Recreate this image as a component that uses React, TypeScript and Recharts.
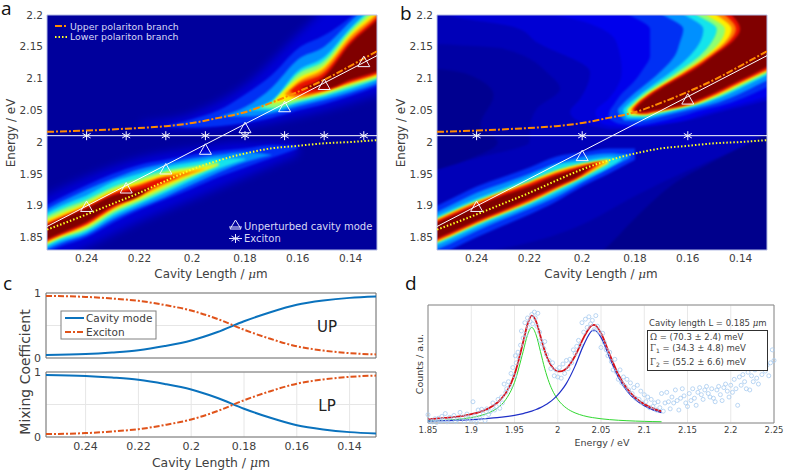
import React from "react";
import {
  Area,
  CartesianGrid,
  ComposedChart,
  Line,
  ReferenceArea,
  Scatter,
  XAxis,
  YAxis,
} from "recharts";

// ---- shared axes
const LENGTH_TICKS = [0.24, 0.22, 0.2, 0.18, 0.16, 0.14];
const ENERGY_TICKS = [1.85, 1.9, 1.95, 2, 2.05, 2.1, 2.15, 2.2];
const MIX_TICKS = [0, 0.5, 1];
const SPECTRUM_TICKS = [1.85, 1.9, 1.95, 2, 2.05, 2.1, 2.15, 2.2, 2.25];
const COUNT_TICKS = [0, 1, 2, 3, 4, 5];

// ---- lines over both maps: [cavity length, energy]
const UPPER_BRANCH = [
  [0.255, 2.016], [0.24, 2.018], [0.225, 2.021], [0.21, 2.025], [0.2, 2.03], [0.19, 2.038],
  [0.18, 2.047], [0.17, 2.062], [0.16, 2.079], [0.15, 2.098], [0.14, 2.12], [0.13, 2.143],
];
const LOWER_BRANCH = [
  [0.255, 1.862], [0.24, 1.886], [0.23, 1.903], [0.22, 1.92], [0.21, 1.939], [0.2, 1.957],
  [0.19, 1.971], [0.18, 1.982], [0.17, 1.99], [0.16, 1.994], [0.15, 1.998], [0.14, 2.0], [0.13, 2.003],
];
const CAVITY_LINE = [[0.255, 1.867], [0.13, 2.136]];
const EXCITON_LINE = [[0.255, 2.01], [0.13, 2.01]];
const CAVITY_A = [
  [0.24, 1.897], [0.225, 1.926], [0.21, 1.956], [0.195, 1.987],
  [0.18, 2.021], [0.165, 2.054], [0.15, 2.089], [0.135, 2.125],
];
const EXCITON_A = [
  [0.24, 2.01], [0.225, 2.01], [0.21, 2.01], [0.195, 2.01],
  [0.18, 2.01], [0.165, 2.01], [0.15, 2.01], [0.135, 2.01],
];
const CAVITY_B = [[0.24, 1.897], [0.2, 1.977], [0.16, 2.066]];
const EXCITON_B = [[0.24, 2.01], [0.2, 2.01], [0.16, 2.01]];

// ---- map a, contour bands: [length, low energy, high energy]
const A_GLOW_LOW = [[0.26, 1.8, 1.905], [0.24, 1.835, 1.945], [0.22, 1.875, 1.975], [0.2, 1.91, 1.99], [0.18, 1.945, 2.0], [0.16, 1.98, 2.0]];
const A_GLOW_UP = [[0.22, 2.025, 2.03], [0.2, 2.02, 2.045], [0.18, 2.024, 2.09], [0.16, 2.04, 2.17], [0.14, 2.062, 2.25], [0.12, 2.09, 2.33]];

const A_LOW_1 = [[0.26, 1.815, 1.89], [0.25, 1.835, 1.912], [0.24, 1.85, 1.932], [0.23, 1.873, 1.95], [0.22, 1.893, 1.964], [0.21, 1.91, 1.972], [0.2, 1.927, 1.98], [0.19, 1.945, 1.986], [0.18, 1.96, 1.99], [0.17, 1.975, 1.995], [0.16, 1.99, 1.994]];
const A_LOW_2 = [[0.26, 1.82, 1.883], [0.25, 1.84, 1.905], [0.24, 1.854, 1.925], [0.23, 1.878, 1.942], [0.22, 1.897, 1.957], [0.21, 1.914, 1.966], [0.2, 1.933, 1.974], [0.19, 1.952, 1.98], [0.18, 1.968, 1.984], [0.17, 1.979, 1.98]];
const A_LOW_3 = [[0.26, 1.824, 1.877], [0.25, 1.844, 1.899], [0.24, 1.858, 1.916], [0.23, 1.883, 1.937], [0.22, 1.902, 1.95], [0.21, 1.92, 1.961], [0.2, 1.94, 1.968], [0.19, 1.958, 1.974], [0.18, 1.972, 1.974]];
const A_LOW_4 = [[0.26, 1.828, 1.872], [0.25, 1.848, 1.893], [0.24, 1.862, 1.909], [0.23, 1.888, 1.929], [0.22, 1.906, 1.943], [0.21, 1.925, 1.955], [0.2, 1.945, 1.962], [0.19, 1.963, 1.968]];
const A_LOW_5 = [[0.26, 1.83, 1.868], [0.25, 1.85, 1.887], [0.24, 1.866, 1.904], [0.23, 1.892, 1.925], [0.22, 1.91, 1.938], [0.21, 1.93, 1.951], [0.2, 1.948, 1.958], [0.19, 1.964, 1.965]];
const A_LOW_6 = [[0.26, 1.833, 1.864], [0.25, 1.852, 1.883], [0.24, 1.869, 1.9], [0.23, 1.895, 1.921], [0.22, 1.914, 1.934], [0.21, 1.934, 1.947], [0.2, 1.951, 1.954], [0.195, 1.958, 1.958]];
const A_LOW_7 = [[0.26, 1.835, 1.861], [0.25, 1.854, 1.88], [0.24, 1.871, 1.898], [0.23, 1.897, 1.919], [0.22, 1.917, 1.931], [0.21, 1.938, 1.944], [0.205, 1.945, 1.945]];
const A_LOW_8 = [[0.26, 1.837, 1.858], [0.25, 1.856, 1.878], [0.24, 1.874, 1.896], [0.23, 1.9, 1.916], [0.22, 1.915, 1.925], [0.215, 1.93, 1.93]];

const A_UP_1 = [[0.21, 2.025, 2.025], [0.2, 2.023, 2.036], [0.19, 2.025, 2.05], [0.18, 2.03, 2.075], [0.17, 2.038, 2.105], [0.16, 2.05, 2.147], [0.15, 2.06, 2.168], [0.14, 2.073, 2.197], [0.13, 2.088, 2.24], [0.12, 2.105, 2.28]];
const A_UP_2 = [[0.19, 2.04, 2.04], [0.18, 2.04, 2.055], [0.17, 2.045, 2.085], [0.16, 2.056, 2.13], [0.15, 2.066, 2.15], [0.14, 2.078, 2.19], [0.13, 2.092, 2.23], [0.12, 2.11, 2.27]];
const A_UP_3 = [[0.18, 2.05, 2.05], [0.17, 2.05, 2.065], [0.16, 2.061, 2.112], [0.15, 2.071, 2.134], [0.14, 2.083, 2.18], [0.13, 2.098, 2.22], [0.12, 2.115, 2.26]];
const A_UP_4 = [[0.175, 2.055, 2.055], [0.17, 2.054, 2.062], [0.16, 2.064, 2.107], [0.15, 2.074, 2.128], [0.14, 2.087, 2.176], [0.13, 2.1, 2.215], [0.12, 2.118, 2.255]];
const A_UP_5 = [[0.17, 2.06, 2.06], [0.16, 2.068, 2.1], [0.15, 2.077, 2.121], [0.14, 2.091, 2.171], [0.13, 2.103, 2.208], [0.12, 2.12, 2.25]];
const A_UP_6 = [[0.165, 2.075, 2.075], [0.16, 2.07, 2.094], [0.15, 2.08, 2.116], [0.14, 2.093, 2.166], [0.13, 2.106, 2.202], [0.12, 2.123, 2.245]];
const A_UP_7 = [[0.163, 2.08, 2.08], [0.16, 2.075, 2.09], [0.15, 2.081, 2.11], [0.14, 2.095, 2.16], [0.13, 2.108, 2.197], [0.12, 2.126, 2.24]];
const A_UP_8 = [[0.159, 2.085, 2.085], [0.15, 2.083, 2.103], [0.14, 2.098, 2.155], [0.13, 2.111, 2.192], [0.12, 2.13, 2.235]];

// ---- map b, shading behind the lobes
const B_DIM_RIGHT = [[0.26, 1.8, 1.815], [0.24, 1.8, 1.825], [0.2, 1.8, 1.87], [0.18, 1.8, 1.915], [0.16, 1.8, 1.955], [0.14, 1.8, 1.99], [0.12, 1.8, 2.02]];
const B_NAVY_RIGHT = [[0.2, 1.8, 1.81], [0.192, 1.8, 1.83], [0.18, 1.8, 1.88], [0.167, 1.8, 1.929], [0.15, 1.8, 1.97], [0.13, 1.8, 2.014], [0.12, 1.8, 2.04]];

// ---- map b, lower lobe: [length, low energy, high energy]
const B_LOW_1 = [[0.26, 1.81, 1.89], [0.25, 1.83, 1.91], [0.24, 1.85, 1.93], [0.23, 1.868, 1.945], [0.22, 1.886, 1.96], [0.21, 1.906, 1.977], [0.2, 1.93, 1.984], [0.19, 1.95, 1.99], [0.18, 1.972, 1.99]];
const B_LOW_2 = [[0.26, 1.822, 1.88], [0.25, 1.84, 1.9], [0.24, 1.86, 1.92], [0.23, 1.878, 1.935], [0.22, 1.895, 1.95], [0.21, 1.913, 1.966], [0.2, 1.936, 1.977], [0.19, 1.958, 1.982], [0.182, 1.975, 1.98]];
const B_LOW_3 = [[0.26, 1.829, 1.874], [0.25, 1.847, 1.893], [0.24, 1.866, 1.911], [0.23, 1.883, 1.927], [0.22, 1.9, 1.944], [0.21, 1.919, 1.9635], [0.2, 1.94, 1.97], [0.19, 1.96, 1.976], [0.185, 1.972, 1.974]];
const B_LOW_4 = [[0.26, 1.833, 1.87], [0.25, 1.851, 1.889], [0.24, 1.87, 1.907], [0.23, 1.887, 1.923], [0.22, 1.904, 1.938], [0.21, 1.924, 1.955], [0.2, 1.944, 1.966], [0.19, 1.966, 1.973]];
const B_LOW_5 = [[0.26, 1.835, 1.868], [0.25, 1.853, 1.887], [0.24, 1.872, 1.905], [0.23, 1.889, 1.921], [0.22, 1.906, 1.936], [0.21, 1.926, 1.952], [0.2, 1.946, 1.964], [0.191, 1.969, 1.971]];
const B_LOW_6 = [[0.26, 1.837, 1.866], [0.25, 1.855, 1.885], [0.24, 1.874, 1.903], [0.23, 1.891, 1.919], [0.22, 1.908, 1.934], [0.21, 1.928, 1.95], [0.2, 1.948, 1.962], [0.193, 1.968, 1.969]];
const B_LOW_7 = [[0.26, 1.839, 1.864], [0.25, 1.857, 1.882], [0.24, 1.876, 1.9], [0.23, 1.893, 1.916], [0.22, 1.911, 1.93], [0.21, 1.93, 1.947], [0.2, 1.95, 1.96], [0.195, 1.966, 1.966]];

// ---- map b, upper shell, read by rows: [energy, left length, right length]
const B_NAVY_1 = [[2.118, 0.27, 0.265], [2.115, 0.27, 0.255], [2.105, 0.27, 0.2424], [2.0735, 0.27, 0.2336], [2.026, 0.27, 0.2386], [2.0, 0.27, 0.232], [1.97, 0.27, 0.245], [1.95, 0.27, 0.26]];
const B_NAVY_2 = [[2.155, 0.27, 0.26], [2.147, 0.27, 0.2298], [2.105, 0.27, 0.2122], [2.084, 0.27, 0.2084], [2.0525, 0.27, 0.2172], [2.026, 0.27, 0.2197], [2.0, 0.27, 0.22], [1.975, 0.27, 0.24], [1.95, 0.27, 0.265]];
const B_SHELL_1 = [[2.3, 0.27, 0.1], [2.2, 0.25, 0.1], [2.18, 0.225, 0.1], [2.157, 0.2172, 0.1], [2.11, 0.197, 0.105], [2.068, 0.2008, 0.128], [2.047, 0.2046, 0.148], [2.03, 0.2, 0.165], [2.02, 0.19, 0.182]];
const B_SHELL_2 = [[2.3, 0.25, 0.1], [2.21, 0.22, 0.1], [2.19, 0.2, 0.1], [2.157, 0.187, 0.1], [2.11, 0.185, 0.11], [2.068, 0.19, 0.133], [2.047, 0.195, 0.152], [2.03, 0.193, 0.168], [2.024, 0.186, 0.18]];
const B_UP_1 = [[2.3, 0.205, 0.1], [2.25, 0.198, 0.1], [2.22, 0.19, 0.1], [2.2, 0.182, 0.1], [2.178, 0.1743, 0.1], [2.157, 0.1743, 0.1], [2.136, 0.1743, 0.105], [2.115, 0.1769, 0.116], [2.094, 0.1806, 0.1264], [2.073, 0.1857, 0.137], [2.058, 0.1882, 0.147], [2.05, 0.1895, 0.155], [2.04, 0.19, 0.163], [2.03, 0.187, 0.173], [2.026, 0.181, 0.178]];
const B_UP_2 = [[2.3, 0.198, 0.1], [2.25, 0.187, 0.1], [2.22, 0.178, 0.1], [2.2, 0.1693, 0.1], [2.178, 0.1617, 0.1], [2.157, 0.163, 0.1], [2.136, 0.1649, 0.11], [2.115, 0.1693, 0.1212], [2.094, 0.175, 0.1315], [2.073, 0.1813, 0.142], [2.058, 0.1851, 0.152], [2.05, 0.1865, 0.16], [2.034, 0.184, 0.176]];
const B_UP_3 = [[2.3, 0.192, 0.1], [2.25, 0.18, 0.1], [2.22, 0.17, 0.1], [2.2, 0.1611, 0.1], [2.178, 0.1541, 0.1], [2.157, 0.1554, 0.1], [2.136, 0.1592, 0.113], [2.115, 0.1649, 0.1251], [2.094, 0.1718, 0.1354], [2.073, 0.1787, 0.146], [2.058, 0.183, 0.156], [2.05, 0.1845, 0.164], [2.038, 0.183, 0.176]];
const B_UP_4 = [[2.3, 0.187, 0.1], [2.25, 0.175, 0.1], [2.22, 0.165, 0.1], [2.2, 0.1566, 0.1], [2.178, 0.149, 0.1], [2.157, 0.151, 0.1], [2.136, 0.1554, 0.1145], [2.115, 0.1623, 0.1268], [2.094, 0.1699, 0.1371], [2.073, 0.1775, 0.1477], [2.058, 0.1813, 0.1578], [2.05, 0.183, 0.166], [2.041, 0.182, 0.175]];
const B_UP_5 = [[2.3, 0.183, 0.1], [2.25, 0.17, 0.1], [2.22, 0.16, 0.1], [2.2, 0.1529, 0.1], [2.178, 0.1459, 0.1], [2.157, 0.1478, 0.1], [2.136, 0.1531, 0.116], [2.115, 0.1602, 0.1282], [2.094, 0.1683, 0.1385], [2.073, 0.1762, 0.149], [2.058, 0.1806, 0.159], [2.05, 0.1825, 0.168], [2.043, 0.181, 0.176]];
const B_UP_6 = [[2.3, 0.18, 0.1], [2.25, 0.166, 0.1], [2.22, 0.156, 0.1], [2.2, 0.149, 0.1], [2.178, 0.1434, 0.1], [2.157, 0.146, 0.1], [2.136, 0.1522, 0.118], [2.115, 0.1595, 0.1287], [2.094, 0.1676, 0.1395], [2.073, 0.1757, 0.15], [2.058, 0.18, 0.16], [2.05, 0.1815, 0.169], [2.044, 0.179, 0.176]];
const B_UP_7 = [[2.3, 0.178, 0.1], [2.25, 0.163, 0.1], [2.22, 0.153, 0.1], [2.2, 0.1459, 0.1], [2.178, 0.1418, 0.1], [2.157, 0.1447, 0.1], [2.136, 0.151, 0.12], [2.115, 0.1585, 0.13], [2.094, 0.167, 0.1405], [2.073, 0.1752, 0.1511], [2.058, 0.1796, 0.1612], [2.05, 0.1808, 0.171], [2.045, 0.178, 0.1755]];
const B_UP_8 = [[2.3, 0.175, 0.1], [2.25, 0.16, 0.1], [2.22, 0.15, 0.1], [2.2, 0.1434, 0.1], [2.178, 0.1402, 0.1], [2.157, 0.1434, 0.1], [2.136, 0.1503, 0.1225], [2.115, 0.1573, 0.1315], [2.094, 0.1661, 0.1418], [2.073, 0.1743, 0.1524], [2.058, 0.1787, 0.1625], [2.05, 0.18, 0.172], [2.047, 0.179, 0.177]];

// ---- panel c: mixing coefficients
const MIX_LENGTH = [0.255, 0.24, 0.23, 0.22, 0.21, 0.2, 0.19, 0.18, 0.17, 0.16, 0.15, 0.14, 0.13];
const UP_CAVITY = [0.045, 0.06, 0.085, 0.12, 0.185, 0.27, 0.4, 0.565, 0.705, 0.82, 0.885, 0.925, 0.945];
const UP_EXCITON = [0.955, 0.94, 0.915, 0.88, 0.815, 0.73, 0.6, 0.435, 0.295, 0.18, 0.115, 0.075, 0.055];

// ---- panel d: spectrum fits
const FIT_ENERGY = [1.85, 1.87, 1.89, 1.91, 1.92, 1.93, 1.94, 1.95, 1.96, 1.965, 1.97, 1.975, 1.98, 1.985, 1.99, 1.995, 2, 2.005, 2.01, 2.02, 2.03, 2.04, 2.042, 2.05, 2.06, 2.07, 2.08, 2.09, 2.1, 2.11, 2.12];
const FIT_TOTAL = [0.16, 0.215, 0.305, 0.47, 0.62, 0.857, 1.27, 2.05, 3.43, 4.18, 4.55, 4.3, 3.68, 3.05, 2.59, 2.31, 2.19, 2.2, 2.31, 2.84, 3.62, 4.15, 4.16, 3.81, 2.91, 2.06, 1.46, 1.06, 0.8, 0.62, 0.49];
const FIT_GREEN = [0.081, 0.116, 0.179, 0.307, 0.429, 0.632, 1, 1.72, 3.03, 3.73, 4.05, 3.73, 3.03, 2.3, 1.72, 1.3, 1, 0.788, 0.632, 0.429, 0.307, 0.23, 0.22, 0.179, 0.143, 0.116, 0.097, 0.081, 0.07, 0.06, 0.053];
const FIT_BLUE = [0.08, 0.099, 0.126, 0.165, 0.192, 0.225, 0.268, 0.325, 0.4, 0.449, 0.505, 0.572, 0.651, 0.748, 0.866, 1.01, 1.19, 1.41, 1.68, 2.41, 3.31, 3.92, 3.94, 3.63, 2.76, 1.94, 1.36, 0.98, 0.727, 0.557, 0.438];
const COUNTS = [
  [1.85, 0.35], [1.852, 0.1], [1.855, 0.05], [1.858, 0.18], [1.86, 0.02], [1.862, 0.2], [1.865, 0.08], [1.866, 0.28], [1.868, 0.12], [1.87, 0.4], [1.872, 0.05], [1.875, 0.24], [1.877, 0.1], [1.88, 0.32], [1.882, 0.06], [1.884, 0.15], [1.887, 0.45], [1.89, 0.25], [1.892, 0.08], [1.895, 0.38], [1.897, 0.2], [1.9, 0.12], [1.902, 0.9], [1.904, 0.3], [1.906, 0.02], [1.908, 0.55], [1.91, 0.2], [1.912, 0.58], [1.914, 0.38], [1.916, 0.1], [1.918, 0.6], [1.92, 0.36], [1.922, 0.48], [1.925, 0.85], [1.927, 0.55], [1.929, 0.7], [1.931, 1.0], [1.933, 0.62], [1.935, 1.1], [1.936, 0.85], [1.938, 1.65], [1.94, 1.3], [1.941, 1.45], [1.943, 1.75], [1.945, 1.55], [1.946, 2.1], [1.948, 2.35], [1.95, 2.0], [1.951, 2.85], [1.952, 2.55], [1.954, 3.0], [1.955, 2.8], [1.957, 3.3], [1.958, 3.9], [1.96, 3.6], [1.962, 4.25], [1.963, 3.75], [1.965, 4.45], [1.966, 4.05], [1.968, 4.3], [1.97, 4.6], [1.971, 4.2], [1.973, 4.7], [1.974, 4.45], [1.976, 4.1], [1.977, 4.65], [1.979, 3.85], [1.98, 3.5], [1.982, 3.35], [1.984, 3.15], [1.985, 3.45], [1.987, 2.9], [1.99, 2.65], [1.992, 2.3], [1.994, 2.55], [1.996, 2.0], [1.998, 2.25], [2, 1.95], [2.002, 2.35], [2.004, 1.9], [2.006, 2.5], [2.008, 2.1], [2.01, 2.65], [2.012, 2.3], [2.014, 2.7], [2.016, 2.55], [2.018, 3.1], [2.02, 2.95], [2.022, 3.25], [2.024, 3.5], [2.026, 3.3], [2.028, 4.25], [2.03, 3.85], [2.032, 4.4], [2.034, 4.05], [2.036, 4.5], [2.038, 4.2], [2.04, 4.35], [2.042, 3.95], [2.044, 4.55], [2.046, 4.1], [2.048, 3.85], [2.05, 3.2], [2.052, 3.8], [2.054, 3.4], [2.056, 3.1], [2.058, 2.85], [2.06, 3.0], [2.062, 2.6], [2.064, 2.25], [2.066, 2.7], [2.068, 2.15], [2.07, 1.85], [2.072, 2.25], [2.074, 1.7], [2.076, 1.95], [2.078, 1.55], [2.08, 1.85], [2.082, 1.4], [2.084, 1.7], [2.086, 1.25], [2.088, 1.5], [2.09, 1.05], [2.092, 1.6], [2.094, 1.0], [2.096, 1.35], [2.098, 0.85], [2.1, 1.2], [2.102, 0.9], [2.104, 1.1], [2.106, 0.65], [2.108, 1.0], [2.11, 0.7], [2.112, 0.85], [2.114, 0.55], [2.116, 0.9], [2.118, 0.65], [2.12, 1.25], [2.122, 0.5], [2.124, 0.85], [2.126, 1.3], [2.128, 0.9], [2.13, 0.6], [2.132, 1.1], [2.134, 0.85], [2.136, 1.4], [2.138, 0.95], [2.14, 0.55], [2.142, 1.05], [2.144, 1.45], [2.146, 1.15], [2.148, 0.85], [2.15, 0.7], [2.152, 1.25], [2.154, 0.95], [2.156, 1.45], [2.158, 1.05], [2.16, 0.75], [2.162, 1.3], [2.164, 1.5], [2.166, 1.2], [2.168, 1.0], [2.17, 1.4], [2.172, 1.55], [2.174, 1.25], [2.176, 1.1], [2.178, 1.45], [2.18, 1.05], [2.182, 0.9], [2.184, 1.4], [2.186, 1.55], [2.188, 1.2], [2.19, 0.95], [2.192, 1.5], [2.194, 1.65], [2.196, 1.35], [2.198, 1.1], [2.2, 1.6], [2.202, 1.3], [2.204, 1.85], [2.206, 1.45], [2.208, 0.75], [2.21, 1.95], [2.212, 1.6], [2.214, 2.05], [2.216, 1.75], [2.218, 1.45], [2.22, 2.15], [2.222, 1.4], [2.224, 2.0], [2.226, 1.75], [2.228, 2.25], [2.23, 1.9], [2.232, 1.65], [2.234, 2.3], [2.236, 2.05], [2.238, 2.65], [2.24, 2.2], [2.242, 2.45], [2.244, 2.0], [2.246, 2.55], [2.248, 3.1], [2.25, 2.65],
];

const FONT = "DejaVu Sans";
const TEXT = "#404040";
const JET = ["#0030f4", "#0090ff", "#14e4ec", "#90ff70", "#ffee00", "#ff8000", "#e81000", "#800000"];
const B_LOW_COLORS = [JET[0], JET[1], JET[2], JET[4], JET[5], JET[6], JET[7]];
const X_DOMAIN: [number, number] = [0.13, 0.255];
const E_DOMAIN: [number, number] = [1.83, 2.2];

const A_BANDS = [
  A_LOW_1, A_LOW_2, A_LOW_3, A_LOW_4, A_LOW_5, A_LOW_6, A_LOW_7, A_LOW_8,
  A_UP_1, A_UP_2, A_UP_3, A_UP_4, A_UP_5, A_UP_6, A_UP_7, A_UP_8,
];
const B_LOW_BANDS = [B_LOW_1, B_LOW_2, B_LOW_3, B_LOW_4, B_LOW_5, B_LOW_6, B_LOW_7];
const B_UP_BANDS = [B_UP_1, B_UP_2, B_UP_3, B_UP_4, B_UP_5, B_UP_6, B_UP_7, B_UP_8];

const bandRows = (rows: number[][]) => rows.map(([x, lo, hi]) => ({ x, band: [lo, hi] }));
const shellRows = (rows: number[][]) => rows.map(([y, l, r]) => ({ y, band: [l, r] }));
const pointRows = (rows: number[][]) => rows.map(([x, y]) => ({ x, y }));
const BACKGROUND = [{ x: 0.27, band: [1.8, 2.3] }, { x: 0.11, band: [1.8, 2.3] }];

const HEAT_BOX = { width: 390, height: 285 };
const HEAT_MARGIN = { top: 15, right: 13, bottom: 35, left: 47 };

function TriangleDot(props: any) {
  const { cx, cy, index } = props;
  return (
    <path
      key={index}
      d={`M${cx} ${cy - 6.5} L${cx + 6} ${cy + 4} L${cx - 6} ${cy + 4} Z`}
      fill="none"
      stroke="#f4f4ff"
      strokeWidth={1}
    />
  );
}

function StarDot(props: any) {
  const { cx, cy, index } = props;
  return (
    <path
      key={index}
      d={`M${cx} ${cy - 4.5} V${cy + 4.5} M${cx - 4} ${cy - 2.3} L${cx + 4} ${cy + 2.3} M${cx - 4} ${cy + 2.3} L${cx + 4} ${cy - 2.3}`}
      fill="none"
      stroke="#fff"
      strokeWidth={1}
    />
  );
}

function band(rows: any[], color: string, key: string, className?: string) {
  return (
    <Area
      key={key}
      data={rows}
      dataKey="band"
      type="monotone"
      className={className}
      fill={color}
      fillOpacity={1}
      stroke="none"
      dot={false}
      activeDot={false}
      isAnimationActive={false}
    />
  );
}

function overlayLine(rows: number[][], color: string, width: number, key: string, dash?: string) {
  return (
    <Line
      key={key}
      data={pointRows(rows)}
      dataKey="y"
      type="monotone"
      stroke={color}
      strokeWidth={width}
      strokeDasharray={dash}
      dot={false}
      activeDot={false}
      isAnimationActive={false}
    />
  );
}

function markers(rows: number[][], Dot: (p: any) => React.ReactElement, key: string) {
  return (
    <Line
      key={key}
      data={pointRows(rows)}
      dataKey="y"
      stroke="none"
      dot={(p: any) => <Dot {...p} />}
      activeDot={false}
      isAnimationActive={false}
    />
  );
}

function heatAxes(visible: boolean) {
  return [
    <XAxis
      key="x"
      dataKey="x"
      type="number"
      domain={X_DOMAIN}
      reversed
      allowDataOverflow
      ticks={LENGTH_TICKS}
      interval={0}
      hide={!visible}
      height={35}
      tick={{ fontSize: 10.5, fontFamily: FONT, fill: TEXT }}
      tickFormatter={(v: number) => String(v)}
      tickLine={false}
      tickSize={0}
      axisLine={false}
      tickMargin={5}
    />,
    <YAxis
      key="y"
      type="number"
      domain={E_DOMAIN}
      allowDataOverflow
      ticks={ENERGY_TICKS}
      interval={0}
      hide={!visible}
      width={47}
      tick={{ fontSize: 10.5, fontFamily: FONT, fill: TEXT }}
      tickLine={false}
      tickSize={0}
      axisLine={false}
      tickMargin={4}
    />,
  ];
}

const frame = (
  <ReferenceArea x1={0.255} x2={0.13} y1={1.83} y2={2.2} fill="none" stroke="#b4bce4" strokeWidth={1} />
);

const VISIBLE_MARGIN = { top: 15, right: 13, bottom: 0, left: 0 };
const layer = (left: number): React.CSSProperties => ({ position: "absolute", left, top: 0 });

function PanelA() {
  return (
    <div style={layer(0)} className="heat-a">
      <ComposedChart {...HEAT_BOX} margin={VISIBLE_MARGIN}>
        {heatAxes(true)}
        {band(BACKGROUND, "#00009c", "base")}
        {band(bandRows(A_GLOW_LOW), "#0000d8", "gl", "glow")}
        {band(bandRows(A_GLOW_UP), "#0000d8", "gu", "glow")}
        {A_BANDS.map((rows, i) => band(bandRows(rows), JET[i % 8], `a${i}`))}
        {frame}
        {overlayLine(UPPER_BRANCH, "#ff8a00", 2, "up", "7 2 2 2")}
        {overlayLine(LOWER_BRANCH, "#ffff20", 2, "lp", "1.5 2")}
        {overlayLine(CAVITY_LINE, "#fff", 1, "cav")}
        {overlayLine(EXCITON_LINE, "#fff", 1, "exc")}
        {markers(CAVITY_A, TriangleDot, "cavm")}
        {markers(EXCITON_A, StarDot, "excm")}
      </ComposedChart>
    </div>
  );
}

function PanelB() {
  return (
    <>
      <div style={layer(390)} className="heat-b">
        <ComposedChart {...HEAT_BOX} margin={HEAT_MARGIN}>
          {heatAxes(false)}
          {band(BACKGROUND, "#0000b8", "base")}
          {band(bandRows(B_DIM_RIGHT), "#0000a4", "dimr")}
          {band(bandRows(B_NAVY_RIGHT), "#00008c", "navyr")}
        </ComposedChart>
      </div>
      <div style={layer(390)} className="heat-b">
        <ComposedChart {...HEAT_BOX} layout="vertical" margin={HEAT_MARGIN}>
          <XAxis type="number" domain={X_DOMAIN} reversed allowDataOverflow hide />
          <YAxis type="number" dataKey="y" domain={E_DOMAIN} reversed allowDataOverflow hide />
          {band(shellRows(B_NAVY_2), "#0000a4", "n2")}
          {band(shellRows(B_NAVY_1), "#000090", "n1")}
          {band(shellRows(B_SHELL_1), "#0000d4", "s1")}
          {band(shellRows(B_SHELL_2), "#0000ec", "s2")}
          {B_UP_BANDS.map((rows, i) => band(shellRows(rows), JET[i], `bu${i}`))}
        </ComposedChart>
      </div>
      <div style={layer(390)} className="heat-b">
        <ComposedChart {...HEAT_BOX} margin={HEAT_MARGIN}>
          {heatAxes(false)}
          {B_LOW_BANDS.map((rows, i) => band(bandRows(rows), B_LOW_COLORS[i], `bl${i}`))}
        </ComposedChart>
      </div>
      <div style={layer(390)}>
        <ComposedChart {...HEAT_BOX} margin={VISIBLE_MARGIN}>
          {heatAxes(true)}
          {frame}
          {overlayLine(UPPER_BRANCH, "#ff8a00", 2, "up", "7 2 2 2")}
          {overlayLine(LOWER_BRANCH, "#ffff20", 2, "lp", "1.5 2")}
          {overlayLine(CAVITY_LINE, "#fff", 1, "cav")}
          {overlayLine(EXCITON_LINE, "#fff", 1, "exc")}
          {markers(CAVITY_B, TriangleDot, "cavm")}
          {markers(EXCITON_B, StarDot, "excm")}
        </ComposedChart>
      </div>
    </>
  );
}

function MixPanel({ top, height, bottom, cavity, exciton, labels }: any) {
  const rows = MIX_LENGTH.map((x, i) => ({ x, cavity: cavity[i], exciton: exciton[i] }));
  return (
    <div style={{ position: "absolute", left: 0, top }}>
      <ComposedChart width={390} height={height} data={rows} margin={{ top: 9, right: 14, bottom, left: 0 }}>
        <CartesianGrid stroke="#e6e6e6" />
        <XAxis
          dataKey="x"
          type="number"
          domain={X_DOMAIN}
          reversed
          allowDataOverflow
          ticks={LENGTH_TICKS}
          interval={0}
          height={labels ? 19 : 0}
          tick={labels ? { fontSize: 11, fontFamily: FONT, fill: TEXT } : false}
          tickFormatter={(v: number) => String(v)}
          tickLine={false}
          tickSize={0}
          axisLine={false}
          tickMargin={5}
        />
        <YAxis
          type="number"
          domain={[0, 1]}
          ticks={MIX_TICKS}
          interval={0}
          width={46}
          tick={{ fontSize: 11, fontFamily: FONT, fill: TEXT }}
          tickFormatter={(v: number) => (v === 0.5 ? "" : String(v))}
          tickLine={false}
          tickSize={0}
          axisLine={false}
          tickMargin={5}
        />
        <ReferenceArea x1={0.255} x2={0.13} y1={0} y2={1} fill="none" stroke="#707070" strokeWidth={1} />
        <Line dataKey="cavity" type="monotone" stroke="#0a72bd" strokeWidth={2} dot={false} activeDot={false} isAnimationActive={false} />
        <Line dataKey="exciton" type="monotone" stroke="#e0531a" strokeWidth={2} strokeDasharray="6 2 2 2" dot={false} activeDot={false} isAnimationActive={false} />
      </ComposedChart>
    </div>
  );
}

function PanelD() {
  const fitRows = FIT_ENERGY.map((x, i) => ({ x, total: FIT_TOTAL[i], green: FIT_GREEN[i], blue: FIT_BLUE[i] }));
  return (
    <div style={{ position: "absolute", left: 390, top: 290 }}>
      <ComposedChart width={397} height={180} data={fitRows} margin={{ top: 15, right: 13, bottom: 0, left: 0 }}>
        <CartesianGrid stroke="#e8e8e8" />
        <XAxis
          dataKey="x"
          type="number"
          domain={[1.85, 2.25]}
          ticks={SPECTRUM_TICKS}
          height={47}
          interval={0}
          tick={{ fontSize: 8.5, fontFamily: FONT, fill: TEXT }}
          tickLine={false}
          tickSize={0}
          axisLine={false}
          tickMargin={4}
        />
        <YAxis type="number" domain={[0, 5]} ticks={COUNT_TICKS} width={38} tick={false} tickLine={false} axisLine={false} />
        <ReferenceArea x1={1.85} x2={2.25} y1={0} y2={5} fill="none" stroke="#8a8a8a" strokeWidth={1} />
        <Scatter data={pointRows(COUNTS)} dataKey="y" fill="none" stroke="#a8ccf0" strokeWidth={0.8} shape={(p: any) => <circle cx={p.cx} cy={p.cy} r={2} fill="none" stroke="#a8ccf0" strokeWidth={0.8} />} isAnimationActive={false} />
        <Line dataKey="green" type="monotone" stroke="#30d830" strokeWidth={1} dot={false} activeDot={false} isAnimationActive={false} />
        <Line dataKey="blue" type="monotone" stroke="#2030c8" strokeWidth={1.2} dot={false} activeDot={false} isAnimationActive={false} />
        <Line dataKey="total" type="monotone" stroke="#d81018" strokeWidth={1.8} dot={false} activeDot={false} isAnimationActive={false} />
      </ComposedChart>
    </div>
  );
}

const mu = <tspan fontFamily="DejaVu Serif" fontStyle="italic">μ</tspan>;

function Annotations() {
  const soft = { fontFamily: FONT, fontSize: 10, fill: "#d8d8f4" };
  const dark = { fontFamily: FONT, fill: TEXT };
  return (
    <svg width={787} height={471} style={{ position: "absolute", left: 0, top: 0 }}>
      {/* panel letters */}
      <g fontFamily="Open Sans" fontSize={19} fill="#111">
        <text x={1} y={15}>a</text>
        <text x={400} y={20}>b</text>
        <text x={3} y={290}>c</text>
        <text x={405} y={290}>d</text>
      </g>

      {/* axis titles */}
      <g {...dark} fontSize={11.9}>
        <text x={211} y={278} textAnchor="middle">Cavity Length / {mu}m</text>
        <text x={601} y={278} textAnchor="middle">Cavity Length / {mu}m</text>
        <text transform="translate(15,133) rotate(-90)" textAnchor="middle">Energy / eV</text>
        <text transform="translate(405,133) rotate(-90)" textAnchor="middle">Energy / eV</text>
        <text x={211} y={467} textAnchor="middle" fontSize={12.4}>Cavity Length / {mu}m</text>
        <text transform="translate(30,372) rotate(-90)" textAnchor="middle" fontSize={14}>Mixing Coefficient</text>
        <text x={602} y={446} textAnchor="middle" fontSize={9.5}>Energy / eV</text>
        <text transform="translate(423,364) rotate(-90)" textAnchor="middle" fontSize={9.5}>Counts / a.u.</text>
      </g>

      {/* legend, panel a */}
      <path d="M55 26 H68" stroke="#ff8a00" strokeWidth={2} strokeDasharray="7 2 2 2" />
      <path d="M55 37 H68" stroke="#ffff20" strokeWidth={2} strokeDasharray="1.5 2" />
      <text x={70} y={29.500} {...soft} fontSize={9.4}>Upper polariton branch</text>
      <text x={70} y={40} {...soft} fontSize={9.4}>Lower polariton branch</text>
      <path d="M229 227 H242 M235.5 220 L241 229 H230 Z" fill="none" stroke="#e8e8ff" />
      <path d="M229 238.500 H242 M235.500 234 V243 M231.500 236 L239.500 241 M231.500 241 L239.500 236" fill="none" stroke="#e8e8ff" />
      <text x={244} y={230} {...soft}>Unperturbed cavity mode</text>
      <text x={244} y={242} {...soft}>Exciton</text>

      {/* legend and labels, panel c */}
      <rect x={61} y={311} width={95} height={28} fill="#fff" stroke="#808080" />
      <path d="M65 318 H84" stroke="#0a72bd" strokeWidth={2} />
      <path d="M65 332 H84" stroke="#e0531a" strokeWidth={2} strokeDasharray="6 2 2 2" />
      <text x={86} y={322} {...dark} fontSize={10.5}>Cavity mode</text>
      <text x={86} y={336} {...dark} fontSize={10.5}>Exciton</text>
      <text x={327} y={331.500} textAnchor="middle" fontFamily={FONT} fontSize={15} fill="#222">UP</text>
      <text x={327} y={410.500} textAnchor="middle" fontFamily={FONT} fontSize={15} fill="#222">LP</text>

      {/* fit box, panel d */}
      <text x={649} y={326} {...dark} fontSize={8.5}>Cavity length L = 0.185 {mu}m</text>
      <rect x={647.500} y={330.500} width={120} height={40} fill="#fff" stroke="#303030" />
      <g {...dark} fontSize={8.5}>
        <text x={650} y={340}><tspan fontFamily="DejaVu Serif">Ω</tspan> = (70.3 ± 2.4) meV</text>
        <text x={650} y={351}><tspan fontFamily="DejaVu Serif">Γ</tspan><tspan fontSize={6} dy={2}>1</tspan><tspan dy={-2}> = (34.3 ± 4.8) meV</tspan></text>
        <text x={650} y={365}><tspan fontFamily="DejaVu Serif">Γ</tspan><tspan fontSize={6} dy={2}>2</tspan><tspan dy={-2}> = (55.2 ± 6.6) meV</tspan></text>
      </g>
    </svg>
  );
}

export default function App() {
  return (
    <div style={{ position: "absolute", left: 0, top: 0, width: 787, height: 471, background: "#fff", overflow: "hidden" }}>
      <style>{`
        .heat-a .recharts-area-area { filter: blur(1.2px); }
        .heat-a .glow .recharts-area-area { filter: blur(5px); }
        .heat-b .recharts-area-area { filter: blur(1px); }
      `}</style>
      <PanelA />
      <PanelB />
      <MixPanel top={284} height={82} bottom={8} cavity={UP_CAVITY} exciton={UP_EXCITON} labels={false} />
      <MixPanel top={363} height={93} bottom={0} cavity={UP_EXCITON} exciton={UP_CAVITY} labels={true} />
      <PanelD />
      <Annotations />
    </div>
  );
}
